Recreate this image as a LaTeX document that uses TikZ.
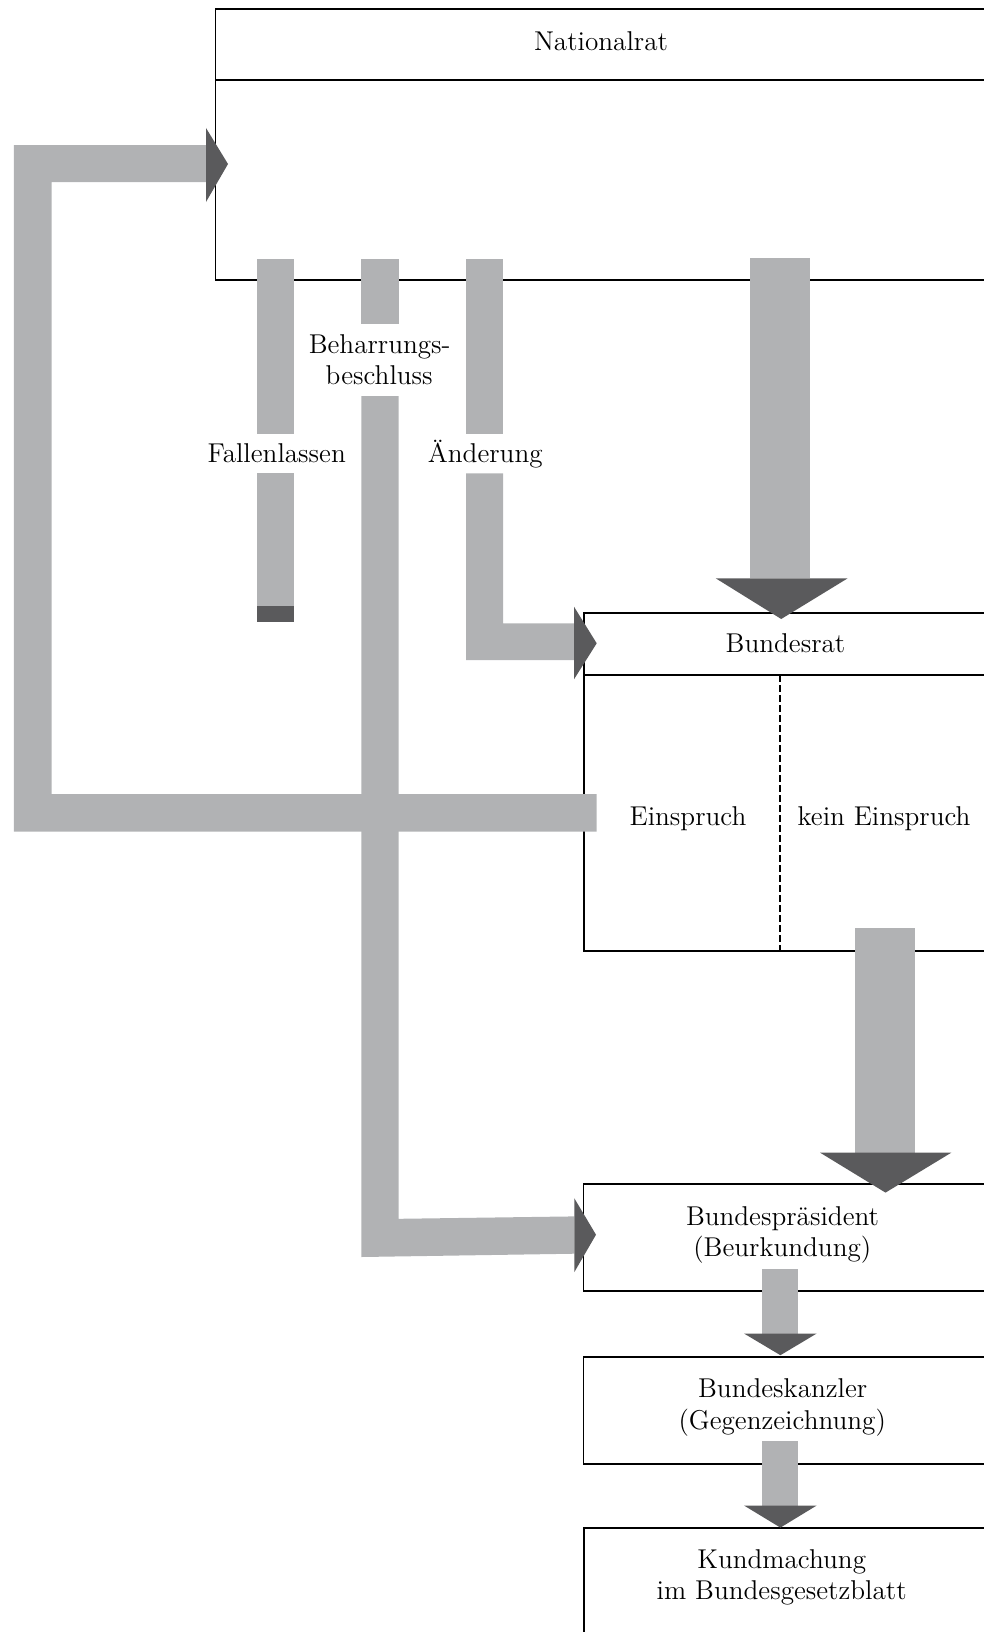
\documentclass[tikz,border=0pt]{standalone}
\usepackage{fontspec}
\setmainfont{Latin Modern Roman}
\definecolor{bandgray}{HTML}{B1B2B4}
\definecolor{headgray}{HTML}{5A5A5C}
\tikzset{
  framebox/.style={draw=black,line width=0.8pt},
  bandfill/.style={fill=bandgray,draw=none},
  headfill/.style={fill=headgray,draw=none},
  lbl/.style={anchor=base,inner sep=0pt,font=\fontsize{13.6}{15}\selectfont},
}
\begin{document}
\begin{tikzpicture}[x=0.5pt,y=-0.5pt]
\useasboundingbox (0,0) rectangle (984,1632);
\clip (0,0) rectangle (984,1632);
% boxes
\draw[framebox] (215.5,9) rectangle (1010,280);
\draw[framebox] (215.5,80) -- (1010,80);
\draw[framebox] (583.7,612.7) rectangle (1010,950.7);
\draw[framebox] (583.7,675) -- (1010,675);
\draw[line width=0.6pt,dash pattern=on 3.3pt off 1.7pt] (780,675) -- (780,950.7);
\draw[framebox] (583.5,1184) rectangle (1010,1291);
\draw[framebox] (583.5,1357) rectangle (1010,1464);
\draw[framebox] (584,1528.2) rectangle (1010,1700);
% texts
\node[lbl] (nr) at (601,51) {Nationalrat};
\node[lbl] (br) at (785.5,652.3) {Bundesrat};
\node[lbl] (ein) at (688,825.7) {Einspruch};
\node[lbl] (kein) at (884,825.7) {kein Einspruch};
\node[lbl] (fall) at (276.7,462.7) {Fallenlassen};
\node[lbl] (aend) at (485.3,462.7) {Änderung};
\node[lbl] (beh1) at (379.7,353.3) {Beharrungs-};
\node[lbl] (beh2) at (379.2,384) {beschluss};
\node[lbl] (bp1) at (782.5,1225.5) {Bundespräsident};
\node[lbl] (bp2) at (782.3,1256.5) {(Beurkundung)};
\node[lbl] (bk1) at (782.7,1397.6) {Bundeskanzler};
\node[lbl] (bk2) at (782.2,1429) {(Gegenzeichnung)};
\node[lbl] (km1) at (781.7,1568.3) {Kundmachung};
\node[lbl] (km2) at (781.7,1599) {im Bundesgesetzblatt};
% Einspruch -> Nationalrat
\fill[bandfill] (596.7,794) -- (51.5,794) -- (51.5,182) -- (206,182) -- (206,145) -- (13.8,145) -- (13.8,831.7) -- (596.7,831.7) -- cycle;
\fill[headfill] (206,128) -- (228,164) -- (206,202) -- cycle;
% Beharrungsbeschluss
\fill[bandfill] (361.3,259) rectangle (398.7,324.3);
\fill[bandfill] (361.3,396) -- (398.7,396) -- (398.7,1218.8) -- (574.4,1216.4) -- (574.4,1253.7) -- (361.3,1257) -- cycle;
\fill[headfill] (574.4,1198.4) -- (596,1234.7) -- (574.4,1272) -- cycle;
% Fallenlassen
\fill[bandfill] (257,259) rectangle (294.3,434.3);
\fill[bandfill] (257,473.3) rectangle (294.3,606);
\fill[headfill] (257,606) rectangle (294.3,621.7);
% Aenderung
\fill[bandfill] (466,259) rectangle (503,434.3);
\fill[bandfill] (466,473.3) -- (503,473.3) -- (503,623.3) -- (574,623.3) -- (574,660) -- (466,660) -- cycle;
\fill[headfill] (574,606.7) -- (596.7,643.3) -- (574,679.3) -- cycle;
% Nationalrat -> Bundesrat
\fill[bandfill] (750.3,258.3) rectangle (810,578.3);
\fill[headfill] (715.7,578.3) -- (847.7,578.3) -- (781.2,619) -- cycle;
% kein Einspruch -> Bundespraesident
\fill[bandfill] (855,928.3) rectangle (914.5,1152.6);
\fill[headfill] (820,1152.6) -- (951.4,1152.6) -- (885.5,1192.6) -- cycle;
% Bundespraesident -> Bundeskanzler
\fill[bandfill] (761.6,1268.6) rectangle (798.3,1333.5);
\fill[headfill] (744,1333.5) -- (816.7,1333.5) -- (780.4,1355.2) -- cycle;
% Bundeskanzler -> Kundmachung
\fill[bandfill] (761.6,1441) rectangle (798.3,1505.5);
\fill[headfill] (744,1505.5) -- (816.7,1505.5) -- (780.4,1527.6) -- cycle;
\end{tikzpicture}
\end{document}
